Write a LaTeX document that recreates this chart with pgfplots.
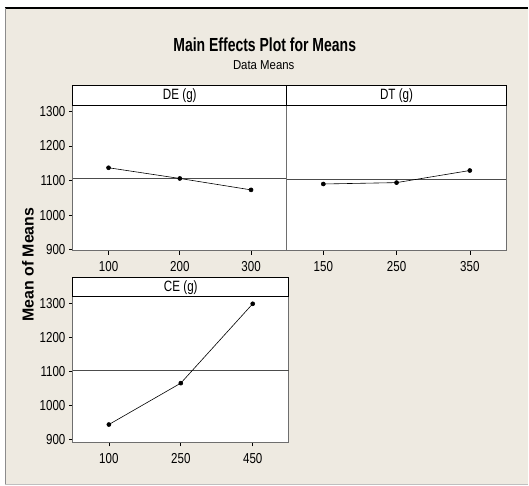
\documentclass[border=0pt]{standalone}
\usepackage{pgfplots}
\pgfplotsset{compat=1.18}
\usepackage{fontspec}
\setmainfont{Liberation Sans}
\definecolor{bgc}{RGB}{238,234,225}
\definecolor{frm}{RGB}{110,110,110}
\newcommand\cz[1]{\scalebox{0.8}[1]{#1}}
\pgfplotsset{
  panel/.style={
    scale only axis,
    axis background/.style={fill=white},
    axis line style={frm, line width=0.9bp},
    tick style={black, line width=0.6bp},
    major tick length=4bp,
    tick align=outside,
    xtick pos=bottom, ytick pos=left,
    xtick={1,2,3}, xmin=0.5, xmax=3.5,
    ytick={900,1000,1100,1200,1300},
    ticklabel style={font=\fontsize{14.5}{14.5}\selectfont},
    xticklabel style={yshift=-3bp},
    /pgf/number format/assume math mode=true,
    /pgf/number format/1000 sep={},
    yticklabel={\cz{\pgfmathprintnumber{\tick}}},
    clip=false,
  },
  meanline/.style={black!70, line width=1bp, forget plot},
  effect/.style={black, line width=0.6bp, mark=*, mark size=2bp, mark options={fill=black}},
}
\begin{document}
\begin{tikzpicture}
\fill[white] (0bp,0bp) rectangle (529bp,486bp);
\fill[bgc] (5bp,0bp) rectangle (529bp,478bp);
\draw[black, line width=1.2bp] (5bp,478bp) -- (529bp,478bp);
\draw[black!45, line width=0.8bp] (5bp,0.6bp) -- (5bp,478bp);
\draw[black!25, line width=0.8bp] (5bp,0.6bp) -- (529bp,0.6bp);

% titles
\node[font=\bfseries\fontsize{19}{19}\selectfont] at (265bp,441bp) {\scalebox{0.74}[1]{Main Effects Plot for Means}};
\node[font=\fontsize{13}{13}\selectfont] at (264bp,421bp) {\scalebox{0.88}[1]{Data Means}};
\node[font=\bfseries\fontsize{16}{16}\selectfont, rotate=90] at (28bp,221bp) {Mean of Means};

% DE panel
\begin{axis}[panel, at={(73bp,235bp)}, anchor=south west, width=214bp, height=145bp,
  ymin=897, ymax=1316, xticklabels={\cz{100},\cz{200},\cz{300}}]
\addplot[meanline] coordinates {(0.5,1105.3) (3.5,1105.3)};
\addplot[effect] coordinates {(1,1137) (2,1106) (3,1073)};
\end{axis}
% DT panel
\begin{axis}[panel, at={(287bp,235bp)}, anchor=south west, width=220bp, height=145bp,
  ymin=897, ymax=1316, ytick=\empty, xticklabels={\cz{150},\cz{250},\cz{350}}]
\addplot[meanline] coordinates {(0.5,1104.3) (3.5,1104.3)};
\addplot[effect] coordinates {(1,1090) (2,1094) (3,1129)};
\end{axis}
% CE panel
\begin{axis}[panel, at={(73bp,43bp)}, anchor=south west, width=216bp, height=146bp,
  ymin=891, ymax=1321, xticklabels={\cz{100},\cz{250},\cz{450}}]
\addplot[meanline] coordinates {(0.5,1103.3) (3.5,1103.3)};
\addplot[effect] coordinates {(1,944) (2,1066) (3,1300)};
\end{axis}

% header strips
\draw[draw=black, fill=white, line width=0.9bp] (73bp,380bp) rectangle (287bp,400bp);
\draw[draw=black, fill=white, line width=0.9bp] (287bp,380bp) rectangle (507bp,400bp);
\draw[draw=black, fill=white, line width=0.9bp] (73bp,189bp) rectangle (289bp,208bp);
\node[font=\fontsize{15}{15}\selectfont] at (180bp,390bp) {\scalebox{0.78}[1]{DE (g)}};
\node[font=\fontsize{15}{15}\selectfont] at (397bp,390bp) {\scalebox{0.78}[1]{DT (g)}};
\node[font=\fontsize{15}{15}\selectfont] at (181bp,198.5bp) {\scalebox{0.78}[1]{CE (g)}};
\end{tikzpicture}
\end{document}
